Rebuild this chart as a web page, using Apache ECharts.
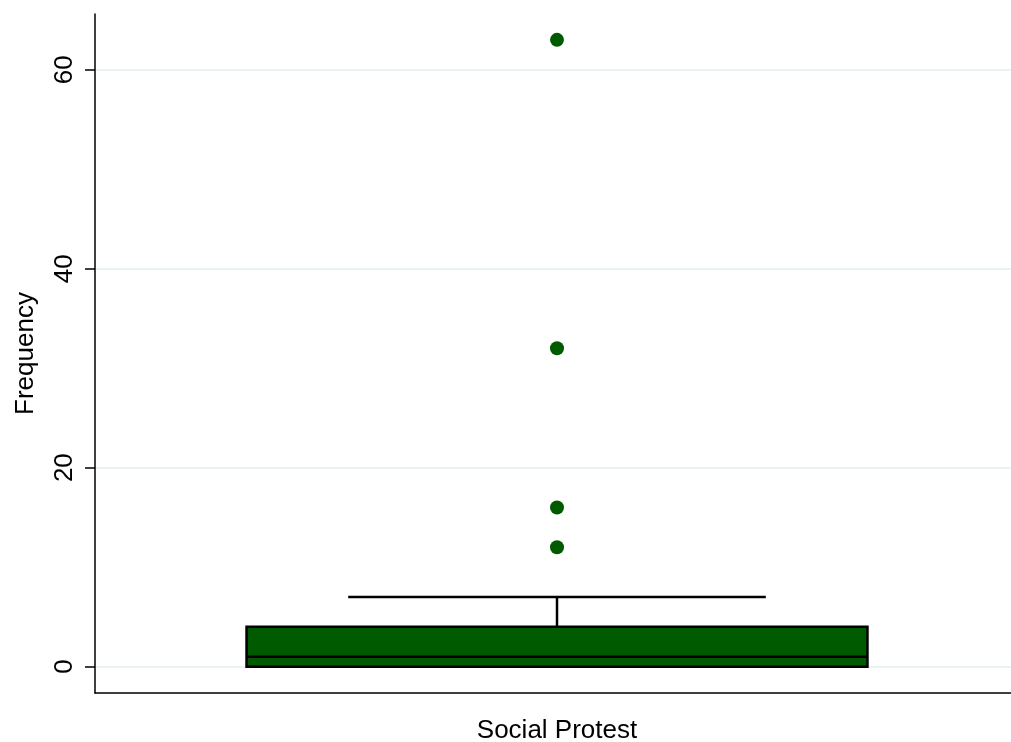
<!DOCTYPE html>
<html>
<head>
<meta charset="utf-8">
<script src="https://cdn.jsdelivr.net/npm/echarts@6/dist/echarts.min.js"></script>
<style>
  html, body { margin: 0; padding: 0; background: #ffffff; }
  #chart { width: 1011px; height: 742px; }
</style>
</head>
<body>
<div id="chart"></div>
<script>
// Box plot of protest event frequency
const categories = ['Social Protest'];
const lowerWhisker = [0];
const q1 = [0];
const medians = [1];
const q3 = [4];
const upperWhisker = [7];
const outliers = [63, 32, 16, 12];
const yTicks = [0, 20, 40, 60];

const GREEN = '#005a00';
const FONT = "'Liberation Sans', Arial, Helvetica, sans-serif";

const boxData = categories.map((c, i) => [i, lowerWhisker[i], q1[i], medians[i], q3[i], upperWhisker[i]]);
const outlierData = outliers.map(v => [0, v]);

function renderBox(params, api) {
  const idx = api.value(0);
  const band = api.size([1, 0])[0];
  const boxHalf = band * 0.336;
  const capHalf = band * 0.226;
  const cx = api.coord([idx, 0])[0];
  const yLow = api.coord([idx, api.value(1)])[1];
  const yQ1 = api.coord([idx, api.value(2)])[1];
  const yMed = api.coord([idx, api.value(3)])[1];
  const yQ3 = api.coord([idx, api.value(4)])[1];
  const yHigh = api.coord([idx, api.value(5)])[1];
  const lineStyle = { stroke: '#000', lineWidth: 2.5, fill: null };
  return {
    type: 'group',
    children: [
      { type: 'line', shape: { x1: cx, y1: yQ3, x2: cx, y2: yHigh }, style: lineStyle },
      { type: 'line', shape: { x1: cx - capHalf, y1: yHigh, x2: cx + capHalf, y2: yHigh }, style: lineStyle },
      { type: 'line', shape: { x1: cx, y1: yQ1, x2: cx, y2: yLow }, style: lineStyle },
      { type: 'rect', shape: { x: cx - boxHalf, y: yQ3, width: boxHalf * 2, height: yQ1 - yQ3 },
        style: { fill: GREEN, stroke: '#000', lineWidth: 2.5 } },
      { type: 'line', shape: { x1: cx - boxHalf, y1: yMed, x2: cx + boxHalf, y2: yMed }, style: lineStyle }
    ]
  };
}

const chart = echarts.init(document.getElementById('chart'), null, { renderer: 'canvas' });
chart.setOption({
  animation: false,
  backgroundColor: '#ffffff',
  grid: { left: 95, right: -8, top: 14, bottom: 49, containLabel: false, outerBoundsMode: 'none' },
  xAxis: {
    type: 'category',
    data: categories,
    axisLine: { show: true, onZero: false, lineStyle: { color: '#000', width: 1.5 } },
    axisTick: { show: false },
    axisLabel: { fontFamily: FONT, fontSize: 26, color: '#000', margin: 25 },
    splitLine: { show: false }
  },
  yAxis: {
    type: 'value',
    min: -2.65,
    max: 65.6,
    name: 'Frequency',
    nameLocation: 'middle',
    nameRotate: 90,
    nameGap: 56,
    nameTextStyle: { fontFamily: FONT, fontSize: 26, color: '#000' },
    axisLine: { show: true, lineStyle: { color: '#000', width: 1.5 } },
    axisTick: { show: true, length: 10, customValues: yTicks, lineStyle: { color: '#000', width: 1.5 } },
    axisLabel: { customValues: yTicks, rotate: 90, fontFamily: FONT, fontSize: 26, color: '#000', margin: 17 },
    splitLine: { show: true, lineStyle: { color: '#eaf2f3', width: 2 } }
  },
  series: [
    {
      type: 'custom',
      renderItem: renderBox,
      data: boxData,
      encode: { x: 0, y: [1, 2, 3, 4, 5] },
      z: 3
    },
    {
      type: 'scatter',
      data: outlierData,
      symbol: 'circle',
      symbolSize: 14,
      itemStyle: { color: GREEN, opacity: 1 },
      z: 4
    }
  ]
});
</script>
</body>
</html>
